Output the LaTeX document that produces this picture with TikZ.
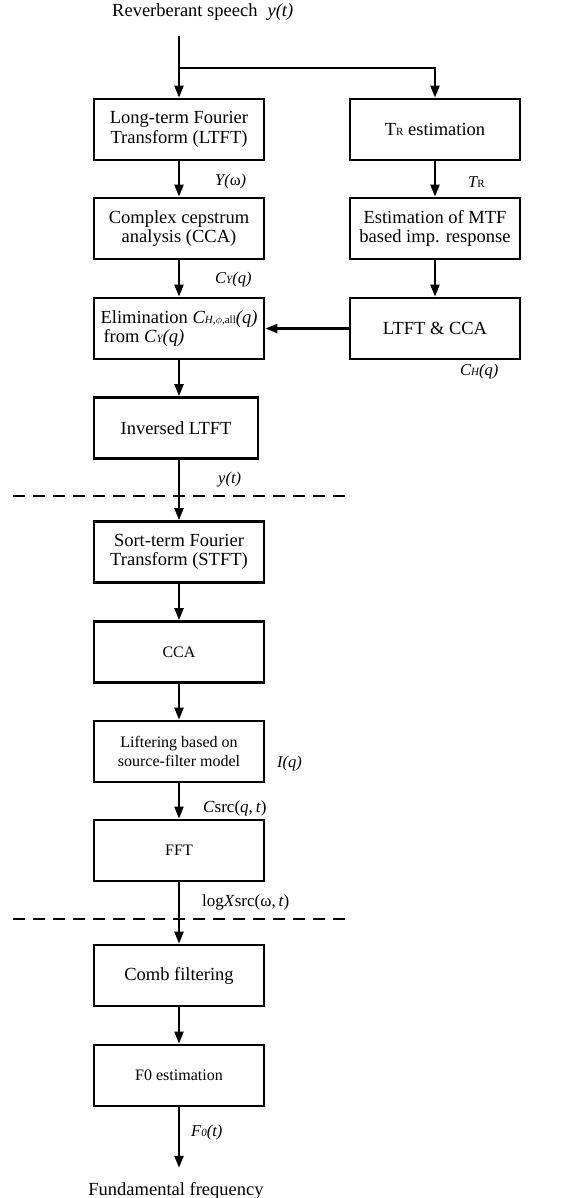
\documentclass[tikz,border=0pt]{standalone}
\usepackage{fontspec}
\setmainfont{Liberation Serif}
\usetikzlibrary{arrows.meta}
\newcommand{\lo}[1]{{\fontsize{11}{11}\selectfont #1}}

\begin{document}
\begin{tikzpicture}[x=1pt,y=-1pt,
    blk/.style={draw,line width=2.8pt,minimum width=170pt,minimum height=61pt,inner sep=0pt,align=center,font=\fontsize{18.5}{19.5}\selectfont},
    lite/.style={blk,font=\fontsize{16}{18.5}\selectfont},
    arr/.style={line width=2.3pt,-{Triangle[length=12pt,width=9pt]}},
    lbl/.style={anchor=west,inner sep=0pt,font=\fontsize{16.5}{18}\selectfont\itshape},
    sep/.style={line width=2.5pt,dash pattern=on 12pt off 8pt}]
  \useasboundingbox (0,0) rectangle (571,1198);

  % input
  \node[anchor=west,inner sep=0pt,font=\fontsize{18.5}{19.5}\selectfont] (title) at (112,12) {Reverberant speech\hspace{10pt}\textit{y(t)}};
  \coordinate (in) at (179,36);
  \coordinate (fork) at (179,68);

  % long-term part
  \node[blk] (ltft) at (179,129.5) {Long-term Fourier\\Transform (LTFT)};
  \node[blk] (tr) at (435,129.5) {T\lo{R} estimation};
  \node[blk] (cca) at (179,228.5) {Complex cepstrum\\analysis (CCA)};
  \node[blk] (mtf) at (435,228.5) {Estimation of MTF\\based imp. response};
  \node[blk,align=left] (elim) at (179,328.5) {Elimination \textit{C\lo{H,$\phi$,}}\lo{all}\textit{(q)}\\\hspace{3pt}from \textit{C\lo{Y}(q)}};
  \node[blk] (ltcca) at (435,328.5) {LTFT \& CCA};
  \node[blk,minimum width=164pt] (inv) at (176,428) {Inversed LTFT};

  % short-term part
  \node[blk] (stft) at (179,552) {Sort-term Fourier\\Transform (STFT)};
  \node[lite] (cca2) at (179,652) {CCA};
  \node[lite] (lift) at (179,751.5) {Liftering based on\\source-filter model};
  \node[lite] (fft) at (179,850.5) {FFT};

  % F0 part
  \node[blk] (comb) at (179,975.5) {Comb filtering};
  \node[lite] (f0) at (179,1075.5) {F0 estimation};
  \node[anchor=base,inner sep=0pt,font=\fontsize{18.5}{19.5}\selectfont] (out) at (176,1195) {Fundamental frequency};

  % signals
  \node[lbl] (ly) at (215,182) {Y({\upshape ω})};
  \node[lbl] (ltr) at (468,182) {T\lo{\upshape R}};
  \node[lbl] (lcy) at (215,280) {C\lo{Y}(q)};
  \node[lbl] (lch) at (460,372) {C\lo{H}(q)};
  \node[lbl] (lyt) at (218,480) {y(t)};
  \node[lbl] (liq) at (277,764) {I(q)};
  \node[lbl,font=\fontsize{17}{18}\selectfont] (lcs) at (203,808) {\textit{C}src(\textit{q},\,\textit{t})};
  \node[lbl,font=\fontsize{17}{18}\selectfont] (llx) at (202,902) {log\textit{X}src(ω,\,\textit{t})};
  \node[lbl] (lf0) at (191,1133) {F\lo{0}(t)};

  \draw[line width=2.3pt] (in) -- (fork);
  \draw[arr] (fork) -- (ltft);
  \draw[arr] (fork) -| (tr);
  \draw[arr] (ltft) -- (cca);
  \draw[arr] (cca) -- (elim);
  \draw[arr] (tr) -- (mtf);
  \draw[arr] (mtf) -- (ltcca);
  \draw[arr] (ltcca) -- (elim);
  \draw[arr] (elim) -- (elim |- inv.north);
  \draw[arr] (inv.south -| stft) -- (stft);
  \draw[arr] (stft) -- (cca2);
  \draw[arr] (cca2) -- (lift);
  \draw[arr] (lift) -- (fft);
  \draw[arr] (fft) -- (comb);
  \draw[arr] (comb) -- (f0);
  \draw[arr,shorten >=14pt] (f0) -- (f0 |- out.north);

  % stage borders
  \draw[sep] (13,496) -- (350,496);
  \draw[sep] (13,919) -- (350,919);
\end{tikzpicture}
\end{document}
